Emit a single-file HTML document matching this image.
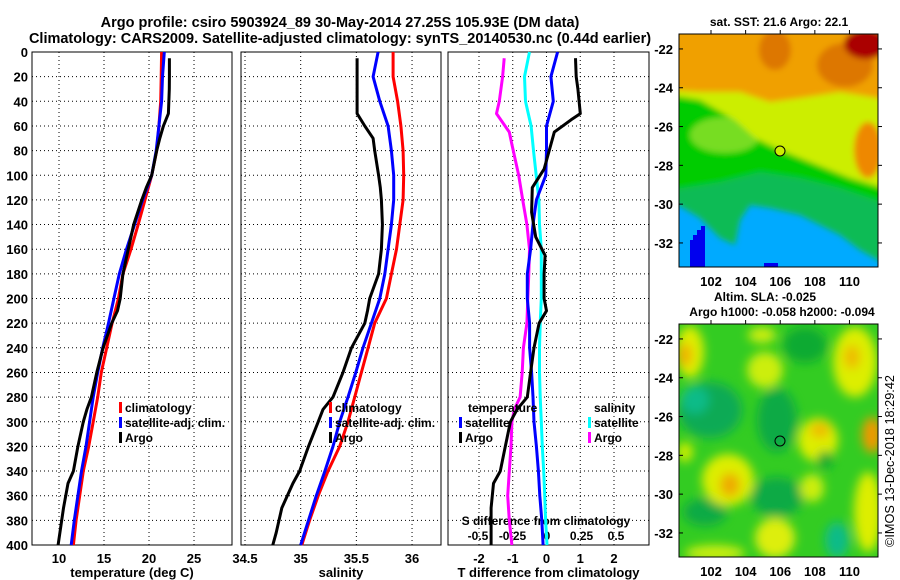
<!DOCTYPE html>
<html><head><meta charset="utf-8">
<style>
body{margin:0;background:#fff;}
svg{display:block;font-family:"Liberation Sans",sans-serif;font-weight:bold;}
</style></head>
<body>
<svg id="c" width="900" height="580" viewBox="0 0 900 580" xmlns="http://www.w3.org/2000/svg">
<defs>
<filter id="bl" x="-30%" y="-30%" width="160%" height="160%"><feGaussianBlur stdDeviation="5"/></filter>
<filter id="bl2" x="-20%" y="-20%" width="140%" height="140%"><feGaussianBlur stdDeviation="3"/></filter>
<clipPath id="m1"><rect x="679" y="34" width="199" height="233"/></clipPath>
<clipPath id="m2"><rect x="679" y="324" width="199" height="233"/></clipPath>
</defs>
<text x="340" y="27" font-size="14.5" text-anchor="middle">Argo profile: csiro 5903924_89 30-May-2014 27.25S 105.93E (DM data)</text>
<text x="340" y="43" font-size="14.5" text-anchor="middle">Climatology: CARS2009. Satellite-adjusted climatology: synTS_20140530.nc (0.44d earlier)</text>

<g clip-path="url(#m1)">
<rect x="679" y="34" width="199" height="233" fill="#00aaff"/>
<g filter="url(#bl2)">
<polygon points="670,25 890,25 890,267 860,250 840,235 800,215 770,208 750,205 740,220 735,245 720,238 700,218 670,200" fill="#11bb55"/>
<polygon points="670,25 890,25 890,205 840,188 800,178 760,172 720,182 670,190" fill="#00cc00"/>
<ellipse cx="725" cy="135" rx="35" ry="18" fill="#77dd22"/>
<polygon points="700,25 890,25 890,190 850,178 810,162 780,150 755,138 735,120 700,100 670,95" fill="#ccee00"/>
<polygon points="670,25 890,25 890,100 840,92 800,98 770,102 740,92 700,92 670,90" fill="#f0a000"/>
<ellipse cx="775" cy="50" rx="16" ry="20" fill="#dd7700"/>
<ellipse cx="845" cy="65" rx="28" ry="22" fill="#dd7700"/>
<ellipse cx="866" cy="44" rx="22" ry="15" fill="#aa0000"/>
<ellipse cx="868" cy="150" rx="14" ry="28" fill="#ee8800"/>
</g>
<path d="M690 267 V240 H693 V235 H697 V230 H701 V226 H705 V267 Z" fill="#0000ee"/>
<rect x="764" y="263" width="14" height="4" fill="#0000ee"/>
<circle cx="780" cy="151" r="5" fill="#ccee00" stroke="#000" stroke-width="1"/>
</g>
<rect x="679" y="34" width="199" height="233" fill="none" stroke="#000"/>
<text x="779" y="26" font-size="12" text-anchor="middle">sat. SST: 21.6 Argo: 22.1</text>

<g clip-path="url(#m2)">
<rect x="679" y="324" width="199" height="233" fill="#33cc22"/>
<g filter="url(#bl)">
<ellipse cx="710" cy="410" rx="32" ry="28" fill="#11aa55"/>
<ellipse cx="695" cy="400" rx="14" ry="14" fill="#11bb88"/>
<ellipse cx="777" cy="420" rx="20" ry="32" fill="#11aa44"/>
<ellipse cx="705" cy="512" rx="22" ry="14" fill="#11aa44"/>
<ellipse cx="777" cy="497" rx="26" ry="20" fill="#11aa44"/>
<ellipse cx="805" cy="345" rx="22" ry="18" fill="#11aa33"/>
<ellipse cx="837" cy="540" rx="12" ry="18" fill="#11bb88"/>
<ellipse cx="690" cy="352" rx="14" ry="26" fill="#ddee00"/>
<ellipse cx="685" cy="355" rx="7" ry="12" fill="#f0b000"/>
<ellipse cx="765" cy="370" rx="18" ry="18" fill="#ccee11"/>
<ellipse cx="762" cy="335" rx="14" ry="8" fill="#ccee11"/>
<ellipse cx="855" cy="362" rx="22" ry="35" fill="#ddee00"/>
<ellipse cx="852" cy="357" rx="8" ry="12" fill="#eebb00"/>
<ellipse cx="818" cy="440" rx="20" ry="22" fill="#ddee00"/>
<ellipse cx="820" cy="430" rx="10" ry="8" fill="#eebb00"/>
<ellipse cx="872" cy="435" rx="10" ry="18" fill="#ee9900"/>
<ellipse cx="685" cy="452" rx="8" ry="10" fill="#ccee00"/>
<ellipse cx="728" cy="480" rx="26" ry="26" fill="#ddee00"/>
<ellipse cx="730" cy="485" rx="10" ry="12" fill="#eeaa00"/>
<ellipse cx="812" cy="488" rx="12" ry="14" fill="#ccee11"/>
<ellipse cx="775" cy="538" rx="20" ry="20" fill="#ddee11"/>
<ellipse cx="868" cy="512" rx="14" ry="40" fill="#ddee00"/>
<ellipse cx="715" cy="553" rx="30" ry="8" fill="#ccee11"/>
<ellipse cx="825" cy="460" rx="8" ry="9" fill="#11aa33"/>
</g>
<circle cx="780" cy="441" r="5" fill="none" stroke="#000" stroke-width="1"/>
</g>
<rect x="679" y="324" width="199" height="233" fill="none" stroke="#000"/>
<text x="765" y="301" font-size="12" text-anchor="middle">Altim. SLA: -0.025</text>
<text x="782" y="316" font-size="12" text-anchor="middle">Argo h1000: -0.058 h2000: -0.094</text>
<text transform="translate(894,547) rotate(-90)" font-size="13" font-weight="normal" textLength="172" lengthAdjust="spacingAndGlyphs">©IMOS 13-Dec-2018 18:29:42</text>
<g id="g"></g>
</svg>
<script>
// depth levels (m)
const depth = [0,20,40,60,80,100,120,140,160,180,200,220,240,260,280,300,320,340,360,380,400];
// temperature (deg C)
const tempClim = [21.4,21.35,21.3,21.1,20.85,20.3,19.55,18.8,18.0,17.1,16.6,15.9,15.3,14.7,14.3,13.8,13.3,12.7,12.3,11.9,11.6];
const tempSat  = [21.7,21.5,21.4,21.1,20.8,20.3,19.3,18.4,17.5,16.7,16.1,15.5,14.85,14.3,13.8,13.4,13.0,12.5,12.1,11.7,11.35];
const argoDepth = [5,20,30,50,60,70,80,100,110,120,140,160,180,200,210,220,240,260,280,290,300,320,340,350,370,390,400];
const tempArgo  = [22.26,22.26,22.25,22.15,21.6,21.2,20.85,20.3,19.7,19.2,18.3,17.7,17.1,16.8,16.5,15.85,14.9,14.2,13.6,13.1,12.7,12.1,11.6,11.0,10.5,10.1,9.9];
// salinity
const salClim = [35.83,35.83,35.87,35.9,35.92,35.925,35.92,35.89,35.86,35.815,35.77,35.665,35.605,35.545,35.485,35.425,35.35,35.245,35.157,35.08,35.01];
const salSat  = [35.695,35.65,35.71,35.785,35.815,35.835,35.835,35.815,35.785,35.755,35.71,35.635,35.56,35.495,35.425,35.35,35.29,35.217,35.14,35.07,35.0];
const salArgo = [35.507,35.507,35.507,35.507,35.576,35.65,35.665,35.7,35.715,35.725,35.734,35.725,35.7,35.62,35.6,35.576,35.456,35.38,35.29,35.2,35.157,35.07,34.99,34.93,34.83,34.78,34.75];
// T differences from climatology
const dTSat = [0.33,0.13,0.2,0.0,0.0,-0.02,-0.3,-0.4,-0.47,-0.57,-0.57,-0.5,-0.5,-0.44,-0.4,-0.37,-0.3,-0.24,-0.2,-0.14,-0.1];
const dTArgoDepth = [5,20,30,50,55,65,80,95,110,130,150,165,180,200,210,220,240,260,280,290,300,320,340,350,370,400];
const dTArgo = [0.86,0.88,0.93,1.0,0.73,0.23,0.08,-0.07,-0.42,-0.44,-0.32,-0.04,-0.07,-0.07,0.0,-0.22,-0.37,-0.47,-0.57,-0.87,-1.07,-1.22,-1.37,-1.57,-1.64,-1.64];
// S differences from climatology
const dSSat = [-0.127,-0.163,-0.156,-0.115,-0.098,-0.078,-0.059,-0.054,-0.041,-0.041,-0.041,-0.049,-0.054,-0.054,-0.049,-0.041,-0.034,-0.024,-0.017,-0.01,0.0];
const dSArgoDepth = [5,20,40,50,65,75,100,120,140,160,180,200,220,240,260,280,290,300,320,340,360,380,400];
const dSArgo = [-0.31,-0.322,-0.346,-0.366,-0.273,-0.254,-0.205,-0.176,-0.146,-0.127,-0.132,-0.139,-0.146,-0.171,-0.18,-0.195,-0.237,-0.254,-0.261,-0.273,-0.285,-0.273,-0.254];
// ticks
const depthTicks = [0,20,40,60,80,100,120,140,160,180,200,220,240,260,280,300,320,340,360,380,400];
const tempTicks = [10,15,20,25];
const salTicks = [34.5,35,35.5,36];
const dTTicks = [-2,-1,0,1,2];
const dSTicks = [-0.5,-0.25,0,0.25,0.5];
const dSTickLabels = ["-0.5","-0.25","0","0.25","0.5"];
const latTicks = [-22,-24,-26,-28,-30,-32];
const lonTicks = [102,104,106,108,110];

const NS="http://www.w3.org/2000/svg";
const G=document.getElementById('g');
function mk(tag,attrs,parent){const e=document.createElementNS(NS,tag);for(const k in attrs)e.setAttribute(k,attrs[k]);(parent||G).appendChild(e);return e;}
const Y0=52,Y1=545;
const yD=d=>Y0+(d/400)*(Y1-Y0);
function lin(d0,d1,r0,r1){return v=>r0+(v-d0)/(d1-d0)*(r1-r0);}
const xT=lin(7,29.22,32,232);
const xS=lin(34.464,36.26,241,441);
const xDT=lin(-2,2,479,614);
const xDS=lin(0,0.5,547,616);

function panel(name,x0,x1,xs,ticks,labels,xlabel,showDepth){
  const g=mk('g',{});
  
  
  depthTicks.forEach(d=>{const l=mk('line',{x1:x0,x2:x1,y1:yD(d),y2:yD(d),stroke:'#000','stroke-dasharray':'1,3','stroke-width':1},g);
    });
  ticks.forEach((t,i)=>{const x=xs(t);
    const l=mk('line',{x1:x,x2:x,y1:Y0,y2:Y1,stroke:'#000','stroke-dasharray':'1,3','stroke-width':1},g);
    
    if(labels){const tx=mk('text',{x:x,y:Y1+18,'font-size':13,'text-anchor':'middle'},g);tx.textContent=labels[i];
    }});
  if(showDepth){depthTicks.forEach(d=>{const tx=mk('text',{x:28,y:yD(d)+5,'font-size':13,'text-anchor':'end'},g);tx.textContent=d;
    });}
  const fr=mk('rect',{x:x0,y:Y0,width:x1-x0,height:Y1-Y0,fill:'none',stroke:'#000','stroke-width':1},g);
  
  const xl=mk('text',{x:(x0+x1)/2,y:577,'font-size':13,'text-anchor':'middle'},g);xl.textContent=xlabel;
  
  return g;
}
function series(g,name,vals,deps,xs,col){
  const p=mk('polyline',{points:vals.map((v,i)=>xs(v).toFixed(1)+','+yD(deps[i]).toFixed(1)).join(' '),fill:'none',stroke:col,'stroke-width':3,'stroke-linejoin':'round'},g);
  
  
}
function legend(g,x,y,items){
  items.forEach((it,i)=>{
    const r=mk('rect',{x:x,y:y+i*15-10,width:3,height:11,fill:it[1]},g);
    
    const t=mk('text',{x:x+6,y:y+i*15,'font-size':12},g);t.textContent=it[0];
    
  });
}
const g1=panel('temperature-panel',32,232,xT,tempTicks,tempTicks.map(String),'temperature (deg C)',true);
series(g1,'temp-climatology-line',tempClim,depth,xT,'#ff0000');
series(g1,'temp-satellite-line',tempSat,depth,xT,'#0000ff');
series(g1,'temp-argo-line',tempArgo,argoDepth,xT,'#000000');
legend(g1,119,412,[['climatology','#f00'],['satellite-adj. clim.','#00f'],['Argo','#000']]);

const g2=panel('salinity-panel',241,441,xS,salTicks,salTicks.map(String),'salinity',false);
series(g2,'sal-climatology-line',salClim,depth,xS,'#ff0000');
series(g2,'sal-satellite-line',salSat,depth,xS,'#0000ff');
series(g2,'sal-argo-line',salArgo,argoDepth,xS,'#000000');
legend(g2,329,412,[['climatology','#f00'],['satellite-adj. clim.','#00f'],['Argo','#000']]);

const g3=panel('difference-panel',448,649,xDT,dTTicks,dTTicks.map(String),'T difference from climatology',false);
dSTicks.forEach((t,i)=>{const tx=mk('text',{x:xDS(t),y:Y1-5,'font-size':12,'text-anchor':'middle'},g3);tx.textContent=dSTickLabels[i];
  });
const st=mk('text',{x:546,y:Y1-20,'font-size':12,'text-anchor':'middle'},g3);st.textContent='S difference from climatology';

series(g3,'sdiff-satellite-line',dSSat,depth,xDS,'#00ffff');
series(g3,'sdiff-argo-line',dSArgo,dSArgoDepth,xDS,'#ff00ff');
series(g3,'tdiff-satellite-line',dTSat,depth,xDT,'#0000ff');
series(g3,'tdiff-argo-line',dTArgo,dTArgoDepth,xDT,'#000000');
const lt=mk('text',{x:468,y:412,'font-size':12},g3);lt.textContent='temperature';

legend(g3,459,427,[['satellite','#00f'],['Argo','#000']]);
const ls=mk('text',{x:594,y:412,'font-size':12},g3);ls.textContent='salinity';

legend(g3,588,427,[['satellite','#0ff'],['Argo','#f0f']]);

// map axes
function mapAxes(y0,y1){
  const g=mk('g',{});
  
  
  const ly=lin(-21.23,-33.24,y0,y1);
  latTicks.forEach(t=>{const y=ly(t);mk('line',{x1:679,x2:683,y1:y,y2:y,stroke:'#000'},g);mk('line',{x1:878,x2:882,y1:y,y2:y,stroke:'#000'},g);
    const tx=mk('text',{x:673,y:y+5,'font-size':13,'text-anchor':'end'},g);tx.textContent=t;
    });
  const lx=lin(100.15,111.65,679,878);
  lonTicks.forEach(t=>{const x=lx(t);mk('line',{x1:x,x2:x,y1:y0,y2:y0-4,stroke:'#000'},g);
    const tx=mk('text',{x:x,y:y1+19,'font-size':13,'text-anchor':'middle'},g);tx.textContent=t;
    });
}
mapAxes(34,267);
mapAxes(324,557);
</script>
</body></html>
